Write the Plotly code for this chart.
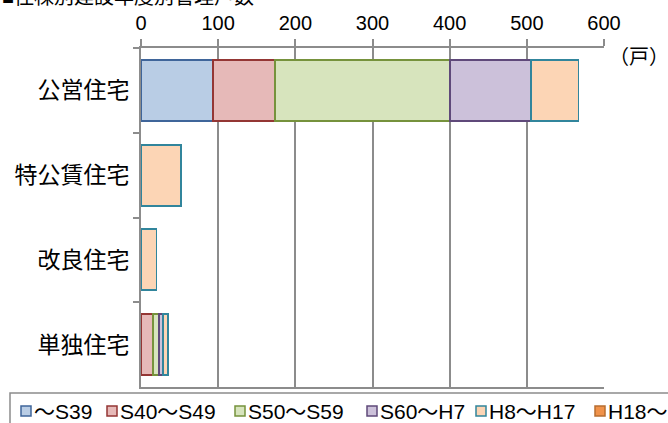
import plotly.graph_objects as go

# ---- data ----
categories = ["公営住宅", "特公賃住宅", "改良住宅", "単独住宅"]
series_names = ["～S39", "S40～S49", "S50～S59", "S60～H7", "H8～H17", "H18～"]
v_s39 = [93, 0, 0, 0]
v_s40 = [81, 0, 0, 16]
v_s50 = [226, 0, 0, 7]
v_s60 = [105, 0, 0, 6]
v_h08 = [62, 52, 20, 6]
v_h18 = [0, 0, 0, 0]
x_ticks = [0, 100, 200, 300, 400, 500, 600]
title_text = "■住棟別建設年度別管理戸数"
unit_text = "（戸）"

series_values = [v_s39, v_s40, v_s50, v_s60, v_h08, v_h18]
fills = ["#B9CDE5", "#E6B9B8", "#D7E4BD", "#CCC1DA", "#FCD5B5", "#F0924A"]
lines = ["#3F659A", "#943634", "#76923C", "#5F497A", "#31859C", "#B66D31"]

FONT = "Liberation Sans, Noto Sans CJK JP, sans-serif"
W, H = 668, 423
ML, MR, MT, MB = 141, 64, 48, 36
PW, PH = W - ML - MR, H - MT - MB
GRAY = "#8C8C8C"


def px2x(px):
    return (px - ML) / PW


def py2y(py):
    return (H - MB - py) / PH


fig = go.Figure()
for name, vals, fc, lc in zip(series_names, series_values, fills, lines):
    # zero-length segments are left out so their outlines do not show
    shown = [v if v else None for v in vals]
    fig.add_trace(go.Bar(
        y=categories, x=shown, name=name, orientation="h",
        marker=dict(color=fc, line=dict(color=lc, width=1.8)),
        showlegend=False,
    ))

# legend drawn as box + swatches + labels
legend_left = [21, 107, 235, 367, 476, 595]
shapes = [dict(type="rect", xref="paper", yref="paper",
               x0=px2x(10), x1=px2x(720), y0=py2y(393), y1=py2y(460),
               line=dict(color=GRAY, width=1.5), fillcolor="rgba(0,0,0,0)", layer="above")]
annotations = []
for name, lx, fc, lc in zip(series_names, legend_left, fills, lines):
    shapes.append(dict(type="rect", xref="paper", yref="paper",
                       x0=px2x(lx), x1=px2x(lx + 10), y0=py2y(406), y1=py2y(416),
                       line=dict(color=lc, width=1.5), fillcolor=fc, layer="above"))
    annotations.append(dict(text=name, xref="paper", yref="paper",
                            x=px2x(lx + 11), y=py2y(411), xanchor="left", yanchor="middle",
                            showarrow=False, font=dict(size=21, color="black", family=FONT)))

annotations.append(dict(text=title_text, xref="paper", yref="paper",
                        x=px2x(0), y=py2y(-3), xanchor="left", yanchor="middle",
                        showarrow=False, font=dict(size=20, color="black", family=FONT)))
annotations.append(dict(text=unit_text, xref="paper", yref="paper",
                        x=px2x(607), y=py2y(57), xanchor="left", yanchor="middle",
                        showarrow=False, font=dict(size=20, color="black", family=FONT)))

fig.update_layout(
    width=W, height=H,
    margin=dict(l=ML, r=MR, t=MT, b=MB, pad=0),
    paper_bgcolor="white", plot_bgcolor="white",
    barmode="stack", bargap=0.28,
    font=dict(family=FONT, color="black"),
    shapes=shapes, annotations=annotations,
    showlegend=False,
)
fig.update_xaxes(
    side="top", range=[0, 600], tickvals=x_ticks, ticktext=[str(t) for t in x_ticks],
    ticks="outside", ticklen=7, tickwidth=1.5, tickcolor=GRAY,
    showline=True, linecolor=GRAY, linewidth=2, mirror=True,
    showgrid=True, gridcolor=GRAY, gridwidth=2, zeroline=False,
    tickfont=dict(size=20, color="black", family=FONT), ticklabelstandoff=1,
)
fig.update_yaxes(
    autorange="reversed", type="category",
    ticks="outside", tickson="boundaries", ticklen=6, tickwidth=1.5, tickcolor=GRAY,
    showline=True, linecolor=GRAY, linewidth=2, mirror=False,
    showgrid=False, zeroline=False,
    tickfont=dict(size=23, color="black", family=FONT), ticklabelstandoff=5,
)

fig.write_html("out.html", config={"displayModeBar": False},
               post_script="document.body.style.margin='0';")
